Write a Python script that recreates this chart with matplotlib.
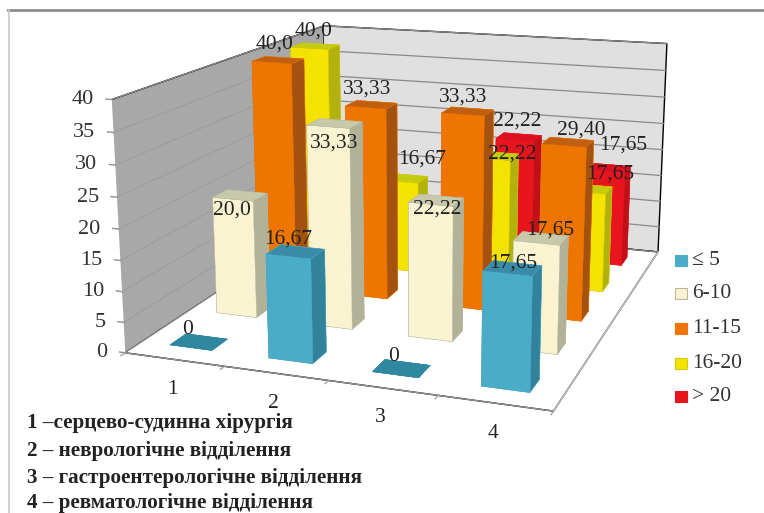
import matplotlib
matplotlib.use("Agg")
import matplotlib.pyplot as plt
from matplotlib.patches import Rectangle
from matplotlib.lines import Line2D
from mpl_toolkits.mplot3d import proj3d

plt.rcParams["font.family"] = ["Liberation Serif", "DejaVu Serif"]

# Дані: групи стажу по відділеннях
categories = ["1", "2", "3", "4"]
series_names = ["≤ 5", "6-10", "11-15", "16-20", "> 20"]
le5 = [0, 16.67, 0, 17.65]
s6_10 = [20.0, 33.33, 22.22, 17.65]
s11_15 = [40.0, 33.33, 33.33, 29.40]
s16_20 = [40.0, 16.67, 22.22, 17.65]
gt20 = [None, None, 22.22, 17.65]
z_ticks = [0, 5, 10, 15, 20, 25, 30, 35, 40]
notes = [
    "1 –серцево-судинна хірургія",
    "2 – неврологічне відділення",
    "3 – гастроентерологічне відділення",
    "4 – ревматологічне відділення",
]

all_series = [le5, s6_10, s11_15, s16_20, gt20]

# кольори граней: передня, бічна, верхня, контур
face_cols = ["#4bacc8", "#f9f3d2", "#ee7600", "#f4e200", "#e8141e"]
side_cols = ["#33829c", "#b2b298", "#a4520f", "#b2b20f", "#c01018"]
top_cols = ["#3a8ba8", "#c8c8aa", "#c0600f", "#c4cc10", "#dc1020"]
edge_cols = ["#4bacc8", "#b8b89c", "#ee7600", "#d8c800", "#e8141e"]

# зсув підписів значень у пікселях (серія, відділення)
label_shift = {
    (0, 0): (-11, 12), (0, 1): (-7, 13), (0, 2): (-8, 12), (0, 3): (1, 5),
    (1, 0): (-8, -15), (1, 1): (-1, -20), (1, 2): (1, -9), (1, 3): (9, 8),
    (2, 0): (-3, 16), (2, 1): (-4, 16), (2, 2): (-5, 14), (2, 3): (13, 12),
    (3, 0): (-2, 15), (3, 1): (18, 19), (3, 2): (18, 2), (3, 3): (22, 15),
    (4, 2): (-2, 16), (4, 3): (15, 23),
}

bar_w = 0.43
bar_d = 0.33


def fmt(v):
    if v == 0:
        return "0"
    if v == int(v):
        return f"{v:.1f}".replace(".", ",")
    return f"{v:.2f}".replace(".", ",")


def fx(px):
    return px / 764


def fy(py):
    return 1 - py / 513


def label3d(x, y, z, text, dx=0, dy=0, **kw):
    # текст у площині екрана поруч із точкою простору
    xp, yp, _ = proj3d.proj_transform(x, y, z, ax.get_proj())
    ax.annotate(text, (xp, yp), xytext=(dx, dy), textcoords="offset pixels",
                annotation_clip=False, **kw)


fig = plt.figure(figsize=(7.64, 5.13), dpi=100)
ax = fig.add_axes([0.11355, -0.00836, 0.84647, 1.26062], projection="3d", computed_zorder=False)
ax.set_proj_type("persp", focal_length=0.4182)
ax.view_init(elev=14.46, azim=-70.635)
ax.set_box_aspect((5.123, 6.035, 3.0))

n_cat = len(categories)
n_ser = len(series_names)
ax.set_xlim(0, n_cat, view_margin=0)
ax.set_ylim(0, n_ser, view_margin=0)
ax.set_zlim(0, 40, view_margin=0)

# стіни та підлога
ax.xaxis.set_pane_color("#a8a8a8")
ax.yaxis.set_pane_color("#e0e0e0")
ax.zaxis.set_pane_color("#ffffff")
for axis in (ax.xaxis, ax.yaxis, ax.zaxis):
    axis.line.set_color((0, 0, 0, 0))
    axis.pane.set_edgecolor((0, 0, 0, 0))
ax.grid(False)
ax.set_xticks([])
ax.set_yticks([])
ax.set_zticks([])

# лінії сітки на стінах
for z in z_ticks:
    ax.plot([0, 0], [0, n_ser], [z, z], color="#9c9c9c", lw=0.7, zorder=1)
    ax.plot([0, n_cat], [n_ser, n_ser], [z, z], color="#8a8a8a", lw=0.9, zorder=1)
    ax.plot([-0.06, 0], [0, 0], [z, z], color="#909090", lw=1, zorder=2)
    label3d(0, 0, z, str(z), dx=-18, ha="right", va="center", fontsize=16, color="#333333", zorder=30)

# ребра підлоги та поділки
ax.plot([0, n_cat], [0, 0], [0, 0], color="#909090", lw=1, zorder=2)
ax.plot([n_cat, n_cat], [0, n_ser], [0, 0], color="#c4c4c4", lw=1, zorder=2)
for i in range(n_cat + 1):
    ax.plot([i, i], [0, -0.08], [0, 0], color="#a0a0a0", lw=1, zorder=2)
for i, name in enumerate(categories):
    label3d(i + 0.5, 0, 0, name, dx=-2, dy=-30, ha="center", va="center", fontsize=15.5,
            color="#222222", zorder=30)

# стовпчики малюються від дальніх до ближніх
order = 3
for j in range(n_ser - 1, -1, -1):
    for i in range(n_cat):
        v = all_series[j][i]
        if v is None:
            continue
        colors = [top_cols[j], top_cols[j], face_cols[j], side_cols[j], side_cols[j], side_cols[j]]
        if v == 0:
            colors = ["#2f87a0"] * 6
        bar = ax.bar3d(i + 0.5 - bar_w / 2, j + 0.5 - bar_d / 2, 0, bar_w, bar_d, v,
                       color=colors, shade=False, edgecolor=edge_cols[j] if v > 0 else "#2f87a0",
                       linewidth=0.3)
        bar.set_zorder(order)
        order += 1

ax.set_xlim(0, n_cat, view_margin=0)
ax.set_ylim(0, n_ser, view_margin=0)
ax.set_zlim(0, 40, view_margin=0)

# підписи значень
for j in range(n_ser):
    for i in range(n_cat):
        v = all_series[j][i]
        if v is None:
            continue
        dx, dy = label_shift[(j, i)]
        label3d(i + 0.5, j + 0.5, v, fmt(v), dx=dx, dy=dy, ha="center", va="center",
                fontsize=15.5, color="#222222", zorder=40)

# легенда
legend_y = [260.5, 293.5, 328.5, 363.5, 396.5]
for name, col, edge, y in zip(series_names, face_cols, edge_cols, legend_y):
    fig.patches.append(Rectangle((fx(675), fy(y + 5.5)), 12 / 764, 11 / 513, transform=fig.transFigure,
                                 facecolor=col, edgecolor=edge, lw=0.8))
    fig.text(fx(692), fy(y), name, ha="left", va="center", fontsize=15.5, color="#333333")

# пояснення до номерів відділень
for note, y in zip(notes, [423, 451, 478, 503]):
    fig.text(fx(27), fy(y), note, ha="left", va="center", fontsize=15.2, color="#222222",
             fontweight="bold")

# рамка області
fig.add_artist(Line2D([fx(8), 1], [fy(10), fy(10)], color="#8c8c8c", lw=2))
fig.add_artist(Line2D([fx(9), fx(9)], [fy(10), 0], color="#c8c8c8", lw=1.2))

fig.savefig("out.png", dpi=100)
